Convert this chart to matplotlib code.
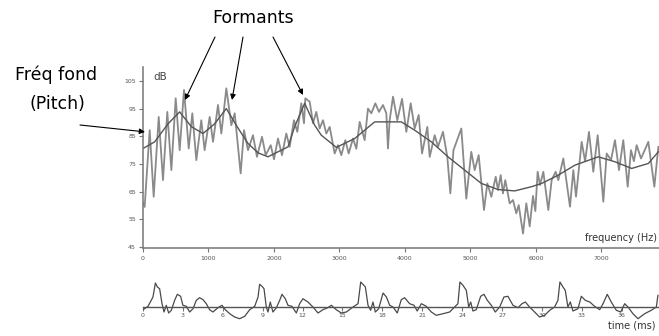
import matplotlib; matplotlib.use("Agg")
import matplotlib.pyplot as plt

# spectrum (harmonic peaks / troughs), Hz -> dB
spec_hz = [0, 25, 102, 163, 240, 305, 371, 433, 499, 560, 626, 698, 753, 814, 890, 941,
           1018, 1069, 1145, 1196, 1272, 1349, 1400, 1491, 1542, 1603, 1679, 1740, 1817, 1873,
           1950, 2000, 2061, 2122, 2188, 2239, 2305, 2356, 2417, 2458, 2478, 2545, 2595, 2646,
           2697, 2748, 2799, 2850, 2926, 2977, 3028, 3089, 3140, 3206, 3257, 3308, 3384, 3435,
           3486, 3547, 3603, 3664, 3715, 3740, 3766, 3817, 3882, 3955, 4020, 4087, 4148, 4209,
           4260, 4341, 4377, 4453, 4504, 4580, 4646, 4692, 4740, 4860, 4936, 5012, 5064, 5125,
           5206, 5257, 5318, 5385, 5420, 5461, 5496, 5531, 5598, 5649, 5699, 5736, 5802, 5852,
           5904, 5954, 5990, 6025, 6061, 6112, 6188, 6239, 6300, 6341, 6417, 6519, 6570, 6611,
           6697, 6750, 6809, 6875, 6942, 7028, 7079, 7145, 7206, 7267, 7333, 7400, 7450, 7495,
           7537, 7603, 7660, 7715, 7807, 7868]
spec_db = [61, 59.5, 87.2, 63.2, 92, 69.2, 93.8, 72.8, 98.7, 80, 101.7, 80.6, 93.3, 76.4, 90.8, 80,
           92, 83, 96.3, 86, 102.3, 89, 93.3, 71.6, 87.2, 80, 85.4, 77.6, 84.8, 78.2,
           81.8, 76.7, 84.2, 78.2, 86, 81.2, 90.8, 86.6, 96.9, 89.7, 98.7, 97.5, 89.7, 93.8,
           87.8, 90.8, 86, 88.4, 78.8, 81.8, 78.2, 83.6, 78.8, 84.2, 80.5, 90.2, 83.6, 95,
           93.3, 96.9, 93.8, 96.3, 93.3, 80.6, 90.8, 99.3, 90.8, 98.5, 86.6, 96.9, 87.8, 92.7,
           78.8, 88.4, 77.6, 85.4, 81.2, 86.6, 77.6, 64.4, 80, 87.8, 62.5, 79.4, 72.8, 78.2,
           58.4, 68, 63.2, 70.4, 65.6, 71, 64.4, 69.2, 60.8, 62, 57.2, 60.2, 49.9, 60.8,
           52.5, 63.5, 58, 72.2, 67.4, 72.2, 58.4, 69.2, 72.2, 69.2, 77, 59.6, 72.8, 63.2,
           83, 76, 86.6, 72.2, 85.4, 61.4, 78.8, 76.4, 83.6, 72.8, 83.6, 66.8, 80, 76,
           81.8, 77, 80, 83, 66.8, 81.2]

# smooth envelope (formant curve)
env_hz = [0, 178, 382, 560, 737, 916, 1094, 1272, 1450, 1603, 1760, 1908, 2214, 2316, 2468,
          2621, 2722, 2952, 3232, 3537, 3944, 4148, 4402, 4656, 4911, 5165, 5420, 5675, 5929,
          6087, 6341, 6595, 6951, 7206, 7461, 7715, 7868]
env_db = [80.6, 83, 89.5, 93.8, 88.5, 86, 89.5, 95, 88, 82.4, 79, 77.6, 81.2, 88.5, 96.9,
          89, 85.4, 81, 84.2, 90.2, 90.2, 87.2, 83, 77.6, 72.8, 68, 65.8, 65.3, 66.8,
          68, 71, 74.6, 77.6, 75.8, 73.4, 75.2, 79.4]

# time waveform (arbitrary amplitude)
wave_ms = [0, 0.38, 0.75, 0.93, 1.08, 1.25, 1.43, 1.58, 1.75, 1.93, 2.13, 2.38, 2.58, 2.83,
           3.0, 3.26, 3.51, 3.76, 4.01, 4.26, 4.51, 4.76, 5.01, 5.26, 5.64, 5.94, 6.19, 6.52,
           6.89, 7.27, 7.65, 8.02, 8.4, 8.65, 8.77, 8.95, 9.1, 9.27, 9.4, 9.57, 9.77, 10.03,
           10.28, 10.45, 10.7, 10.9, 11.2, 11.53, 11.78, 12.03, 12.4, 12.78, 13.16, 13.53,
           13.9, 14.16, 14.53, 14.91, 15.29, 15.79, 16.17, 16.37, 16.54, 16.72, 16.92, 17.12,
           17.29, 17.47, 17.72, 18.05, 18.3, 18.55, 18.8, 19.12, 19.42, 19.67, 20.05, 20.38,
           20.62, 20.93, 21.3, 21.68, 22.05, 22.56, 23.06, 23.44, 23.68, 23.83, 24.06, 24.31,
           24.49, 24.64, 24.81, 25.06, 25.39, 25.64, 25.89, 26.19, 26.49, 26.82, 27.14, 27.44,
           27.82, 28.2, 28.5, 28.75, 29.07, 29.45, 29.82, 30.2, 30.58, 30.95, 31.2, 31.35,
           31.58, 31.75, 31.95, 32.13, 32.33, 32.71, 32.96, 33.26, 33.59, 33.96, 34.34, 34.59,
           34.91, 35.21, 35.59, 35.92, 36.22, 36.47, 36.84, 37.22, 37.72, 38.22, 38.6, 38.72]
wave_amp = [-2.7, 0.7, 10, 24, 20, 18.3, 3.3, -5, 1.7, -6, -3.3, 6.7, 12.7, 10.7,
            1.7, 0.7, -5, -1.7, 6.7, 9.3, 7.3, 3.3, -2.7, -5, -0.7, 1.7, -2.7, -6.7,
            -10, -11.7, -9.3, -2.7, 0.7, 10, 22.7, 20.7, 18.3, 0, -5, 5, -5, -0.7,
            6.7, 12.7, 8.3, 1.7, 0.7, -6, 3.3, 8.3, 5, 0, -6, -2.7,
            -0.7, 1.7, -2.7, -6, -5, 0, 3.3, 25, 22.7, 20, 1.7, -3.3,
            5, -5, -1.7, 14, 10, 1.7, 0, -6, 7.3, 9.3, 3.3, 1.7,
            -4, 3.3, 0.7, -5, -8.3, -6.7, -5, 0, 3.3, 25, 21.7, 16.7,
            0, 5, -4, -2.7, 10.7, 12.7, 6.7, 1.7, -5, 0, 10, 10.7,
            1.7, -0.7, 3.3, 5, 0, -5, -10, -8.3, -3.3, 0, 6.7, 25,
            20, 16.7, 0, 5, -4, -1.7, 10.7, 6.7, 5, 0.7, -2.7, 3.3,
            12.7, 5, -3.3, -5, 3.3, 0, -6.7, -11.7, -6.7, -3.3, 0, 11.7]

db_ticks = [45, 55, 65, 75, 85, 95, 105]
hz_ticks = [0, 1000, 2000, 3000, 4000, 5000, 6000, 7000]
ms_ticks = list(range(0, 39, 3))

W, H = 659, 336
fig = plt.figure(figsize=(W / 100, H / 100), dpi=100)
fig.patch.set_facecolor("white")
TICK = dict(labelsize=4.5, labelcolor="#555555", color="#777777", length=3, width=0.8)

# --- spectrum ---
ax = fig.add_axes([143 / W, (H - 248) / H, (W - 143) / W, 181 / H])
ax.plot(spec_hz, spec_db, color="#8a8a8a", lw=1.3)
ax.plot(env_hz, env_db, color="#555555", lw=1.0)
ax.set_xlim(0, 7878); ax.set_ylim(44.7, 110)
for s in ("top", "right"):
    ax.spines[s].set_visible(False)
for s in ("left", "bottom"):
    ax.spines[s].set_color("#777777"); ax.spines[s].set_linewidth(1.1)
ax.set_xticks(hz_ticks); ax.set_yticks(db_ticks)
ax.tick_params(axis="x", pad=2.5, **TICK)
ax.tick_params(axis="y", pad=2, **TICK)
ax.text(0.02, 0.93, "dB", transform=ax.transAxes, fontsize=7.5, color="#444444")
fig.text(657 / W, 1 - 238 / H, "frequency (Hz)", ha="right", va="center", fontsize=7, color="#333333")

# --- waveform ---
bx = fig.add_axes([143 / W, 9 / H, (W - 143) / W, 55 / H])
bx.plot(wave_ms, wave_amp, color="#4a4a4a", lw=0.9)
bx.set_xlim(0, 38.8); bx.set_ylim(-20, 35)
for s in ("top", "right", "left"):
    bx.spines[s].set_visible(False)
bx.spines["bottom"].set_position(("data", 0))
bx.spines["bottom"].set_color("#555555"); bx.spines["bottom"].set_linewidth(1.0)
bx.set_yticks([]); bx.set_xticks(ms_ticks)
bx.tick_params(axis="x", pad=1.5, **TICK)
fig.text(655 / W, 1 - 325 / H, "time (ms)", ha="right", va="center", fontsize=7, color="#333333")

# --- annotations ---
fig.text(253 / W, 1 - 18 / H, "Formants", ha="center", va="center", fontsize=12.5)
fig.text(56 / W, 1 - 75 / H, "Fréq fond", ha="center", va="center", fontsize=12.5)
fig.text(57 / W, 1 - 104 / H, "(Pitch)", ha="center", va="center", fontsize=12.5)
arrow = dict(arrowstyle="-|>", color="black", lw=0.8, mutation_scale=8, shrinkA=0, shrinkB=0)
for tip, start in [((641, 98.1), (215, H - 37)), ((1359, 98.1), (243, H - 37)),
                   ((2443, 99.9), (273, H - 37)), ((30, 86.6), (80, H - 125))]:
    ax.annotate("", xy=tip, xycoords="data", xytext=start, textcoords="figure pixels",
                arrowprops=arrow, annotation_clip=False)

fig.savefig("out.png", dpi=100)
